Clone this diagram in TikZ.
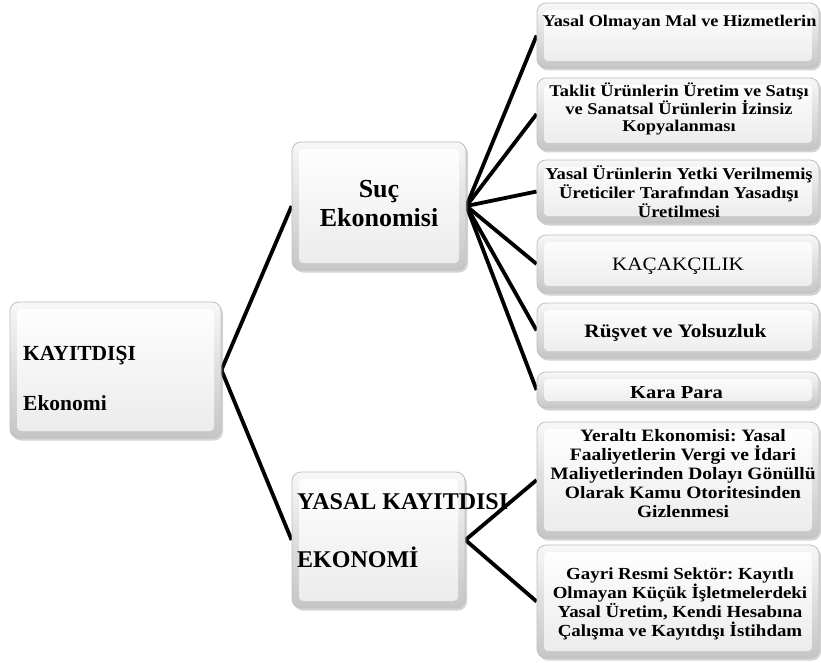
\documentclass[tikz,border=0pt]{standalone}
\usepackage{fontspec}
\setmainfont{Liberation Serif}
\newfontfamily\wideserif{Liberation Serif}[FakeStretch=1.12]
\usetikzlibrary{shadows,backgrounds}
\frenchspacing
\tikzset{
  bx/.style={rectangle, rounded corners=9pt, draw=gray!50, line width=0.8pt,
    top color=gray!6, bottom color=gray!45, inner sep=0pt,
    drop shadow={shadow xshift=2pt, shadow yshift=-2.5pt, opacity=0.35},
    path picture={\shade[top color=white, bottom color=gray!16, rounded corners=4pt]
      ([shift={(7pt,-7pt)}]path picture bounding box.north west) rectangle
      ([shift={(-7pt,7pt)}]path picture bounding box.south east);}},
  rbox/.style={bx, minimum width=282pt},
  txt/.style={inner sep=0pt, align=center, font=\bfseries},
  conn/.style={line width=3.8pt, black},
}
\begin{document}
\begin{tikzpicture}[x=1pt, y=-1pt]
\useasboundingbox (0,0) rectangle (821,663);
% boxes
\node[bx, minimum width=211pt, minimum height=136pt] (root) at (115.5,370) {};
\node[bx, minimum width=174pt, minimum height=128pt] (suc) at (379,206) {};
\node[bx, minimum width=173pt, minimum height=136pt] (yasal) at (378.5,540) {};
\node[rbox, minimum height=65pt] (b1) at (678,35.5) {};
\node[rbox, minimum height=72pt] (b2) at (678,114) {};
\node[rbox, minimum height=63pt] (b3) at (678,191.5) {};
\node[rbox, minimum height=58pt] (b4) at (678,264) {};
\node[rbox, minimum height=55pt] (b5) at (678,330.5) {};
\node[rbox, minimum height=36pt] (b6) at (678,390) {};
\node[rbox, minimum height=116pt] (b7) at (678,480) {};
\node[rbox, minimum height=113pt] (b8) at (678,601.5) {};
% connectors
\begin{scope}[on background layer]
\draw[conn] (root.east) -- (suc.west);
\draw[conn] (root.east) -- (yasal.west);
\foreach \b in {b1,b2,b3,b4,b5,b6} \draw[conn] (suc.east) -- (\b.west);
\draw[conn] (yasal.east) -- (b7.west);
\draw[conn] (yasal.east) -- (b8.west);
\end{scope}
% texts
\node[txt, anchor=base west, font=\bfseries\fontsize{21.5}{24}\selectfont] (t0a) at (23,360) {KAYITDIŞI};
\node[txt, anchor=base west, font=\bfseries\fontsize{21.5}{24}\selectfont] (t0b) at (23,410) {Ekonomi};
\node[txt, font=\bfseries\fontsize{26}{29}\selectfont] (ts) at (379,204) {Suç\\Ekonomisi};
\node[txt, anchor=base west, font=\bfseries\fontsize{24}{27}\selectfont] (tya) at (297,509) {YASAL KAYITDISI};
\node[txt, anchor=base west, font=\bfseries\fontsize{24}{27}\selectfont] (tyb) at (297,567) {EKONOMİ};
\node[txt, anchor=base, font=\wideserif\bfseries\fontsize{16.3}{17}\selectfont] (t1) at (679.5,27) {Yasal Olmayan Mal ve Hizmetlerin};
\node[txt, font=\wideserif\bfseries\fontsize{16.4}{16.5}\selectfont] (t2) at (679,108.5) {Taklit Ürünlerin Üretim ve Satışı\\ve Sanatsal Ürünlerin İzinsiz\\Kopyalanması};
\node[txt, font=\wideserif\bfseries\fontsize{16.6}{19}\selectfont] (t3) at (679,192) {Yasal Ürünlerin Yetki Verilmemiş\\Üreticiler Tarafından Yasadışı\\Üretilmesi};
\node[inner sep=0pt, anchor=base, font=\wideserif\fontsize{18.9}{21}\selectfont] (t4) at (678,270) {KAÇAKÇILIK};
\node[txt, anchor=base, font=\wideserif\bfseries\fontsize{19}{21}\selectfont] (t5) at (675.5,337) {Rüşvet ve Yolsuzluk};
\node[txt, anchor=base, font=\wideserif\bfseries\fontsize{18.3}{21}\selectfont] (t6) at (676.5,398) {Kara Para};
\node[txt, font=\wideserif\bfseries\fontsize{17.4}{19}\selectfont] (t7) at (683,474) {Yeraltı Ekonomisi: Yasal\\Faaliyetlerin Vergi ve İdari\\Maliyetlerinden Dolayı Gönüllü\\Olarak Kamu Otoritesinden\\Gizlenmesi};
\node[txt, font=\wideserif\bfseries\fontsize{16.9}{19.3}\selectfont] (t8) at (680,604) {Gayri Resmi Sektör: Kayıtlı\\Olmayan Küçük İşletmelerdeki\\Yasal Üretim, Kendi Hesabına\\Çalışma ve Kayıtdışı İstihdam};
\end{tikzpicture}
\end{document}
